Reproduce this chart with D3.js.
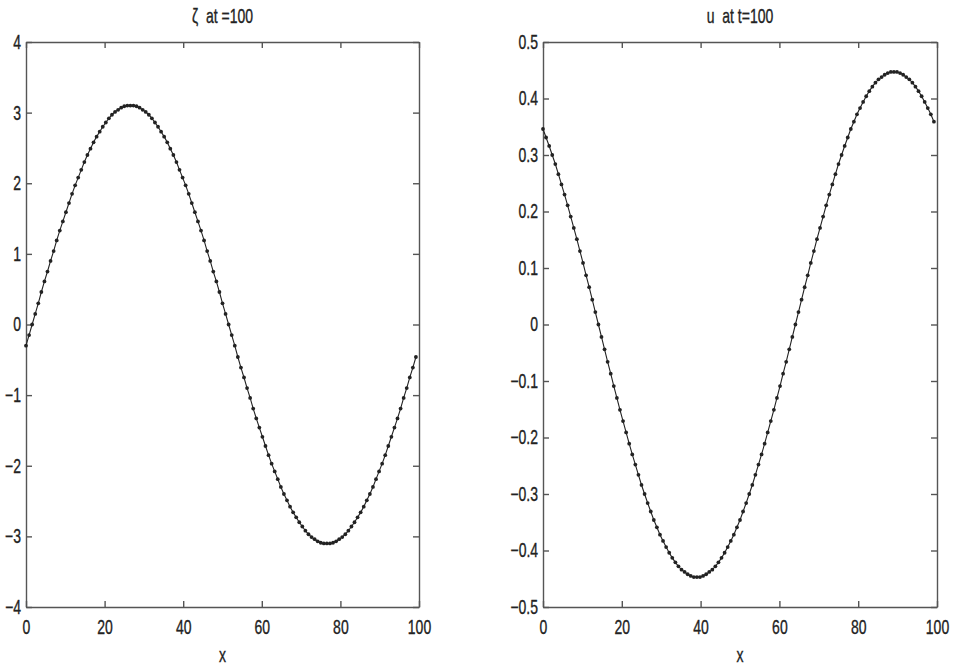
<!DOCTYPE html>
<html>
<head>
<meta charset="utf-8">
<script src="https://cdnjs.cloudflare.com/ajax/libs/d3/7.8.5/d3.min.js"></script>
<style>
  body { margin: 0; background: #fff; }
  svg { display: block; font-family: "Liberation Sans", Arial, Helvetica, sans-serif; }
  text { fill: #222; stroke: #222; stroke-width: 0.35px; font-size: 20px; transform-box: fill-box; transform-origin: center; transform: scaleX(0.7); }
  .yaxis text { transform-origin: right center; }
  .box path, .box line { stroke: #555; stroke-width: 1.4; }
</style>
</head>
<body>
<svg id="chart" width="955" height="669"></svg>
<script>
// sample grid: 128 points over [0, 100)
const gridStep = 0.78125;

// zeta at t=100
const zetaValues = [
  -0.30, -0.15, 0.00, 0.15, 0.30, 0.46, 0.61, 0.75, 0.90, 1.04,
  1.19, 1.33, 1.46, 1.59, 1.72, 1.85, 1.97, 2.08, 2.19, 2.30,
  2.40, 2.49, 2.58, 2.66, 2.73, 2.80, 2.86, 2.92, 2.97, 3.01,
  3.04, 3.07, 3.09, 3.10, 3.10, 3.10, 3.09, 3.07, 3.04, 3.01,
  2.97, 2.92, 2.86, 2.80, 2.73, 2.66, 2.58, 2.49, 2.40, 2.30,
  2.19, 2.08, 1.97, 1.85, 1.72, 1.59, 1.46, 1.33, 1.19, 1.04,
  0.90, 0.75, 0.61, 0.46, 0.30, 0.15, 0.00, -0.15, -0.30, -0.46,
  -0.61, -0.75, -0.90, -1.04, -1.19, -1.33, -1.46, -1.59, -1.72, -1.85,
  -1.97, -2.08, -2.19, -2.30, -2.40, -2.49, -2.58, -2.66, -2.73, -2.80,
  -2.86, -2.92, -2.97, -3.01, -3.04, -3.07, -3.09, -3.10, -3.10, -3.10,
  -3.09, -3.07, -3.04, -3.01, -2.97, -2.92, -2.86, -2.80, -2.73, -2.66,
  -2.58, -2.49, -2.40, -2.30, -2.19, -2.08, -1.97, -1.85, -1.72, -1.59,
  -1.46, -1.33, -1.19, -1.04, -0.90, -0.75, -0.61, -0.46
];

// u at t=100
const uValues = [
  0.346, 0.331, 0.316, 0.300, 0.284, 0.266, 0.248, 0.230, 0.211, 0.191,
  0.171, 0.151, 0.130, 0.109, 0.087, 0.066, 0.044, 0.022, 0.000, -0.022,
  -0.044, -0.066, -0.087, -0.109, -0.130, -0.151, -0.171, -0.191, -0.211, -0.230,
  -0.248, -0.266, -0.284, -0.300, -0.316, -0.331, -0.346, -0.359, -0.372, -0.383,
  -0.394, -0.404, -0.413, -0.421, -0.428, -0.434, -0.438, -0.442, -0.445, -0.447,
  -0.447, -0.447, -0.445, -0.442, -0.438, -0.434, -0.428, -0.421, -0.413, -0.404,
  -0.394, -0.383, -0.372, -0.359, -0.346, -0.331, -0.316, -0.300, -0.284, -0.266,
  -0.248, -0.230, -0.211, -0.191, -0.171, -0.151, -0.130, -0.109, -0.087, -0.066,
  -0.044, -0.022, 0.000, 0.022, 0.044, 0.066, 0.087, 0.109, 0.130, 0.151,
  0.171, 0.191, 0.211, 0.230, 0.248, 0.266, 0.284, 0.300, 0.316, 0.331,
  0.346, 0.359, 0.372, 0.383, 0.394, 0.404, 0.413, 0.421, 0.428, 0.434,
  0.438, 0.442, 0.445, 0.447, 0.447, 0.447, 0.445, 0.442, 0.438, 0.434,
  0.428, 0.421, 0.413, 0.404, 0.394, 0.383, 0.372, 0.359
];

const xTicks = [0, 20, 40, 60, 80, 100];
const zetaTicks = [-4, -3, -2, -1, 0, 1, 2, 3, 4];
const uTicks = [-0.5, -0.4, -0.3, -0.2, -0.1, 0, 0.1, 0.2, 0.3, 0.4, 0.5];

const svg = d3.select("#chart");

function drawPanel(left, right, values, yDomain, yTicks, yFormat, title) {
    let top = 42, bottom = 607;
    let x = d3.scaleLinear().domain([0, 100]).range([left, right]);
    let y = d3.scaleLinear().domain(yDomain).range([bottom, top]);
    let g = svg.append("g");

    // box with inward ticks on all four sides
    g.append("g").attr("class", "box")
        .attr("transform", "translate(0," + bottom + ")")
        .call(d3.axisBottom(x).tickValues(xTicks).tickSizeInner(-6).tickSizeOuter(0).tickPadding(13));
    g.append("g").attr("class", "box")
        .attr("transform", "translate(0," + top + ")")
        .call(d3.axisTop(x).tickValues(xTicks).tickSizeInner(-6).tickSizeOuter(0).tickFormat(""));
    g.append("g").attr("class", "box yaxis")
        .attr("transform", "translate(" + left + ",0)")
        .call(d3.axisLeft(y).tickValues(yTicks).tickSizeInner(-6).tickSizeOuter(0).tickPadding(5).tickFormat(yFormat));
    g.append("g").attr("class", "box")
        .attr("transform", "translate(" + right + ",0)")
        .call(d3.axisRight(y).tickValues(yTicks).tickSizeInner(-6).tickSizeOuter(0).tickFormat(""));
    g.selectAll(".tick text").attr("fill", "#222");
    g.selectAll(".domain").attr("stroke", "#555");

    let pts = values.map(function(v, i) { return { x: i * gridStep, y: v }; });

    g.append("path")
        .datum(pts)
        .attr("fill", "none")
        .attr("stroke", "#222")
        .attr("stroke-width", 1.1)
        .attr("d", d3.line().x(function(d) { return x(d.x); }).y(function(d) { return y(d.y); }));

    g.selectAll("circle.pt")
        .data(pts)
        .enter()
        .append("circle")
        .attr("class", "pt")
        .attr("cx", function(d) { return x(d.x); })
        .attr("cy", function(d) { return y(d.y); })
        .attr("r", 1.9)
        .attr("fill", "#222");

    g.append("text")
        .attr("x", (left + right) / 2)
        .attr("y", 23)
        .attr("text-anchor", "middle")
        .style("white-space", "pre")
        .text(title);

    g.append("text")
        .attr("x", (left + right) / 2)
        .attr("y", 662)
        .attr("text-anchor", "middle")
        .text("x");
}

drawPanel(26, 419, zetaValues, [-4, 4], zetaTicks, d3.format("d"), "\u03b6  at =100");
drawPanel(543, 937, uValues, [-0.5, 0.5], uTicks, function(d) {
    return d === 0 ? "0" : d3.format(".1f")(d);
}, "u  at t=100");
</script>
</body>
</html>
